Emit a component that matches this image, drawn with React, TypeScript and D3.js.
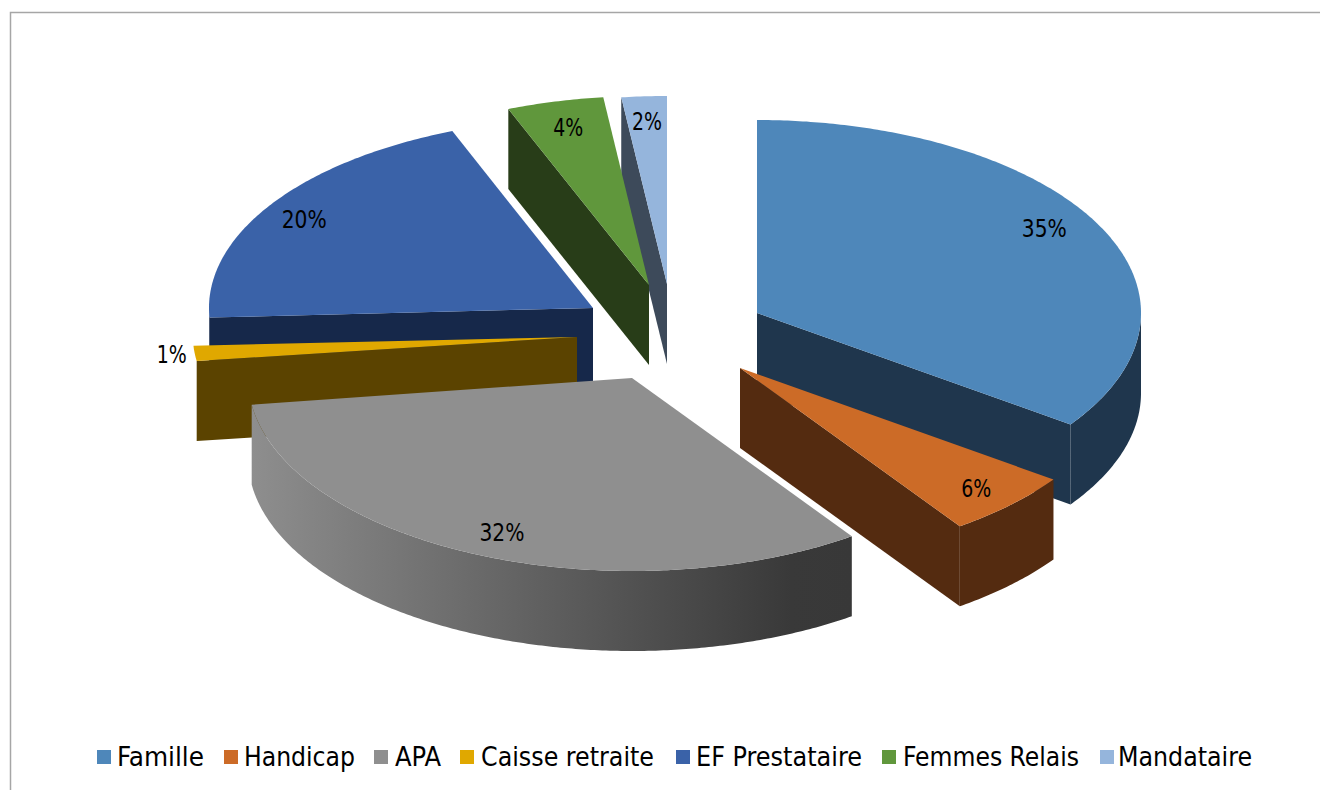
import React from "react";
import * as d3 from "d3";

// ---- data ----
const categories = ["Famille", "Handicap", "APA", "Caisse retraite", "EF Prestataire", "Femmes Relais", "Mandataire"];
const shares = [34.8, 5.5, 32.49, 1.41, 19.83, 4.07, 1.9];

// ---- styles / layout ----
const topColors = ["#4e87ba", "#cc6b27", "#8f8f8f", "#e0a800", "#3a62a8", "#60973c", "#95b5dc"];
const sideColors = ["#1f364d", "#542b10", "#555555", "#5b4300", "#16284a", "#283d18", "#3d4a5a"];
const apexX = [757, 740, 632, 577, 593, 649, 667];
const apexY = [313, 368, 378, 337, 308, 285, 284];
const depthScale = [1, 1, 1, 0.9, 0.985, 0.98, 0.974];
const hasWall = [true, true, true, false, true, true, true];
const labelRadius = [0.867, 0.873, 0.865, 1.06, 0.885, 0.86, 0.87];
const labelTurn = [-3, 0, -0.5, 0, -1, 0, 0];
const drawOrder = [6, 5, 4, 3, 0, 1, 2];
const legendSwatchX = [97, 224, 374, 460, 676, 882, 1100];
const legendTextX = [117, 244, 395, 481, 696, 903, 1118];
const legendTextW = [87, 111, 46, 173, 166, 176, 134];
const RX = 384;
const RY = 193;
const DEPTH = 80;
const W = 1320;
const H = 790;
const FONT = "'DejaVu Sans Condensed','DejaVu Sans',sans-serif";

type P = [number, number];
const line = d3.line<P>();

export default function App() {
  const arcs = d3.pie<number>().sort(null).startAngle(0).endAngle(2 * Math.PI)(shares);
  const total = d3.sum(shares);
  const proj = (i: number, a: number, f = 1, dz = 0): P => [
    apexX[i] + RX * f * Math.sin(a),
    apexY[i] - RY * depthScale[i] * f * Math.cos(a) + dz,
  ];
  const arcPts = (i: number, a0: number, a1: number, dz = 0): P[] => {
    const n = Math.max(2, Math.ceil(Math.abs(a1 - a0) / 0.01));
    return d3.range(n + 1).map((k) => proj(i, a0 + ((a1 - a0) * k) / n, 1, dz));
  };
  const quad = (i: number, a: number): P[] => {
    const c: P = [apexX[i], apexY[i]];
    const e = proj(i, a);
    return [c, e, [e[0], e[1] + DEPTH], [c[0], c[1] + DEPTH]];
  };

  const apaStart = proj(2, arcs[2].endAngle)[0];
  const apaEnd = proj(2, arcs[2].startAngle)[0];

  return (
    <svg width={W} height={H} style={{ position: "absolute", left: 0, top: 0, display: "block", background: "#fff" }}>
      <defs>
        <linearGradient id="apaWall" gradientUnits="userSpaceOnUse" x1={apaStart} x2={apaEnd} y1={0} y2={0}>
          <stop offset="0" stopColor="#8e8e8e" />
          <stop offset="0.1" stopColor="#848484" />
          <stop offset="0.5" stopColor="#5e5e5e" />
          <stop offset="0.9" stopColor="#393939" />
          <stop offset="1" stopColor="#383838" />
        </linearGradient>
      </defs>
      <path d={`M10.5,${H}V12.5H${W}`} fill="none" stroke="#a6a6a6" strokeWidth={1.5} />

      {drawOrder.map((i) => {
        const a = arcs[i];
        const wall0 = Math.max(a.startAngle, Math.PI / 2);
        const wall1 = Math.min(a.endAngle, (3 * Math.PI) / 2);
        const side = i === 2 ? "url(#apaWall)" : sideColors[i];
        const cutFill = sideColors[i];
        const top: P[] = [[apexX[i], apexY[i]], ...arcPts(i, a.startAngle, a.endAngle)];
        const endFaces = a.endAngle < Math.PI;
        const startFaces = a.startAngle > Math.PI;
        return (
          <g key={categories[i]}>
            {endFaces && <path d={line(quad(i, a.endAngle)) + "Z"} fill={cutFill} />}
            {startFaces && <path d={line(quad(i, a.startAngle)) + "Z"} fill={cutFill} />}
            {hasWall[i] && wall1 > wall0 && (
              <path
                d={line([...arcPts(i, wall0, wall1), ...arcPts(i, wall1, wall0, DEPTH)]) + "Z"}
                fill={side}
              />
            )}
            <path d={line(top) + "Z"} fill={topColors[i]} />
          </g>
        );
      })}

      {arcs.map((a, i) => {
        const mid = (a.startAngle + a.endAngle) / 2 + (labelTurn[i] * Math.PI) / 180;
        const [x, y] = proj(i, mid, labelRadius[i]);
        const text = `${Math.round((shares[i] / total) * 100)}%`;
        const len = 15 * (text.length - 1) + 15;
        return (
          <text
            key={i}
            x={x - len / 2}
            y={y + 9}
            fontFamily={FONT}
            fontSize={24}
            fill="#000"
            textLength={len}
            lengthAdjust="spacingAndGlyphs"
          >
            {text}
          </text>
        );
      })}

      {categories.map((c, i) => (
        <g key={c}>
          <rect x={legendSwatchX[i]} y={750} width={14} height={14} fill={topColors[i]} />
          <text
            x={legendTextX[i]}
            y={766}
            fontFamily={FONT}
            fontSize={26}
            fill="#000"
            textLength={legendTextW[i]}
            lengthAdjust="spacingAndGlyphs"
          >
            {c}
          </text>
        </g>
      ))}
    </svg>
  );
}
